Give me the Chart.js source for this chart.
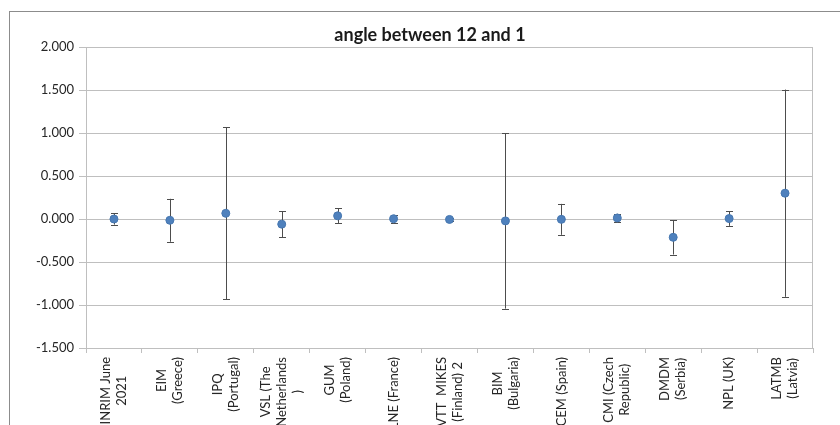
<!DOCTYPE html>
<html>
<head>
<meta charset="utf-8">
<title>angle between 12 and 1</title>
<script src="https://cdn.jsdelivr.net/npm/chart.js@4.4.1/dist/chart.umd.min.js"></script>
<style>
    body { margin: 0; background: #fff; }
    #frame {
        position: absolute; left: 9px; top: 11px;
        width: 860px; height: 440px;
        border: 1px solid #8c8c8c;
    }
    #chart { position: absolute; left: 0; top: 0; }
</style>
</head>
<body>
<div id="frame"></div>
<canvas id="chart" width="840" height="425"></canvas>
<script>
// Laboratories (x categories), already wrapped as in the sheet
const labs = [
    ['INRIM June', '2021'],
    ['EIM', '(Greece)'],
    ['IPQ', '(Portugal)'],
    ['VSL (The', 'Netherlands', ')'],
    ['GUM', '(Poland)'],
    ['LNE (France)'],
    ['VTT  MIKES', '(Finland) 2'],
    ['BIM', '(Bulgaria)'],
    ['CEM (Spain)'],
    ['CMI (Czech', 'Republic)'],
    ['DMDM', '(Serbia)'],
    ['NPL (UK)'],
    ['LATMB', '(Latvia)']
];

// Measured deviation and its uncertainty (error bar half-length)
const deviation = [0.000, -0.015, 0.066, -0.060, 0.037, 0.003, -0.005, -0.022, -0.004, 0.012, -0.213, 0.005, 0.300];
const uncertainty = [0.065, 0.250, 1.000, 0.150, 0.087, 0.045, 0.020, 1.020, 0.180, 0.048, 0.200, 0.085, 1.205];

// Y axis range
const yMin = -1.5;
const yMax = 2.0;
const yStep = 0.5;

const chartTitle = 'angle between 12 and 1';
const textColor = '#262626';
const gridColor = '#bfbfbf';
const fontFamily = 'Lato, "Open Sans", sans-serif';

// Draw the error bars behind the markers
const errorBars = {
    id: 'errorBars',
    beforeDatasetsDraw(chart) {
        const ctx = chart.ctx;
        const yScale = chart.scales.y;
        const meta = chart.getDatasetMeta(0);
        ctx.save();
        ctx.strokeStyle = '#4d4d4d';
        ctx.lineWidth = 1;
        meta.data.forEach((pt, i) => {
            const x = Math.round(pt.x) + 0.5;
            const top = yScale.getPixelForValue(deviation[i] + uncertainty[i]);
            const bottom = yScale.getPixelForValue(deviation[i] - uncertainty[i]);
            ctx.beginPath();
            ctx.moveTo(x, top);
            ctx.lineTo(x, bottom);
            ctx.moveTo(x - 3.5, Math.round(top) + 0.5);
            ctx.lineTo(x + 3.5, Math.round(top) + 0.5);
            ctx.moveTo(x - 3.5, Math.round(bottom) + 0.5);
            ctx.lineTo(x + 3.5, Math.round(bottom) + 0.5);
            ctx.stroke();
        });
        ctx.restore();
    }
};

// Title, right border of the plot area and rotated, centred category labels
const plotExtras = {
    id: 'plotExtras',
    afterDraw(chart) {
        const ctx = chart.ctx;
        const area = chart.chartArea;
        const xScale = chart.scales.x;
        ctx.save();
        ctx.strokeStyle = gridColor;
        ctx.lineWidth = 1;
        ctx.beginPath();
        ctx.moveTo(Math.round(area.right) - 0.5, area.top);
        ctx.lineTo(Math.round(area.right) - 0.5, area.bottom);
        ctx.stroke();

        ctx.font = 'bold 18px ' + fontFamily;
        ctx.fillStyle = '#1a1a1a';
        ctx.textAlign = 'center';
        ctx.textBaseline = 'middle';
        ctx.fillText(chartTitle, 430, 35);

        ctx.font = '13px ' + fontFamily;
        ctx.fillStyle = textColor;
        const lineHeight = 16;
        const labelTop = area.bottom + 9;
        labs.forEach((lines, i) => {
            const xc = xScale.getPixelForValue(i);
            const maxW = Math.max(...lines.map(l => ctx.measureText(l).width));
            lines.forEach((line, j) => {
                const dx = (j - (lines.length - 1) / 2) * lineHeight;
                ctx.save();
                ctx.translate(xc + dx, labelTop + maxW / 2);
                ctx.rotate(-Math.PI / 2);
                ctx.fillText(line, 0, 0);
                ctx.restore();
            });
        });
        ctx.restore();
    }
};

new Chart(document.getElementById('chart'), {
    type: 'line',
    data: {
        labels: labs,
        datasets: [{
            label: chartTitle,
            data: deviation,
            showLine: false,
            pointRadius: 4,
            pointBackgroundColor: '#4f81bd',
            pointBorderColor: '#4677b0',
            pointBorderWidth: 1
        }]
    },
    options: {
        responsive: false,
        animation: false,
        layout: { padding: { left: 20, right: 27, top: 47, bottom: 0 } },
        plugins: {
            legend: { display: false },
            tooltip: { enabled: false },
            title: { display: false }
        },
        scales: {
            x: {
                type: 'category',
                offset: true,
                ticks: { display: false },
                grid: {
                    offset: true,
                    drawOnChartArea: false,
                    drawTicks: true,
                    tickLength: 5,
                    color: gridColor
                },
                border: { display: true, color: gridColor },
                afterFit(scale) { scale.height = 77; }
            },
            y: {
                min: yMin,
                max: yMax,
                ticks: {
                    stepSize: yStep,
                    padding: 5,
                    color: textColor,
                    font: { family: fontFamily, size: 13 },
                    callback: v => v.toFixed(3)
                },
                grid: { color: gridColor, tickLength: 7 },
                border: { display: true, color: gridColor },
                afterFit(scale) { scale.width = 66; }
            }
        }
    },
    plugins: [errorBars, plotExtras]
});
</script>
</body>
</html>
